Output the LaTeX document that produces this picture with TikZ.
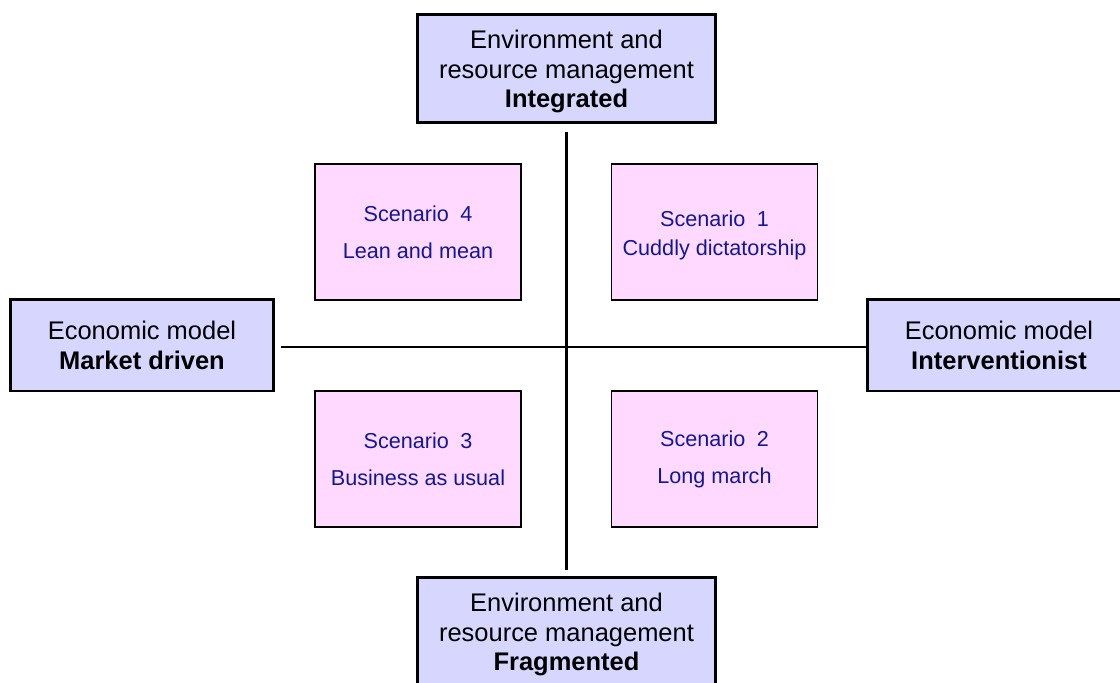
\documentclass[tikz,border=0pt]{standalone}
\usepackage{fontspec}
\setmainfont{Liberation Sans}
\usepackage{tikz}
\definecolor{axisfill}{RGB}{214,214,255}
\definecolor{scenfill}{RGB}{255,217,255}
\definecolor{scentext}{RGB}{16,24,150}

\begin{document}
\begin{tikzpicture}[x=0.02cm, y=-0.02cm,
        axisbox/.style={draw=black, line width=1.7pt, fill=axisfill, align=center,
          font={\fontsize{14.5}{17}\selectfont}},
        scenbox/.style={draw=black, line width=1pt, fill=scenfill, align=center, text=scentext,
          minimum width=4.12cm, minimum height=2.73cm, font={\fontsize{12.3}{21}\selectfont}},
        axisline/.style={line width=1.3pt}]
          \path[use as bounding box, clip] (0,0) rectangle (1120,683);

          %draw axis boxes
          \node[axisbox, minimum width=5.98cm, minimum height=2.18cm, text height=47.9pt] (integ) at (566.5,68.5)
            {Environment and\\resource management\\\textbf{Integrated}};
          \node[axisbox, minimum width=5.98cm, minimum height=2.18cm, text height=47.9pt] (frag) at (566.5,631.5)
            {Environment and\\resource management\\\textbf{Fragmented}};
          \node[axisbox, minimum width=5.28cm, minimum height=1.84cm] (market) at (142,345)
            {Economic model\\\textbf{Market driven}};
          \node[axisbox, minimum width=5.28cm, minimum height=1.84cm] (interv) at (999,345)
            {Economic model\\\textbf{Interventionist}};

          %draw cross
          \draw[axisline, shorten <=4pt, shorten >=3pt] (integ) -- (frag);
          \draw[axisline, shorten <=3pt] ([yshift=-1.1pt]market.east) -- ([yshift=-1.1pt]interv.west);

          %draw scenarios
          \node[scenbox] (scen4) at (418,232) {Scenario\hspace{0.25em} 4\\Lean and mean};
          \node[scenbox, text height=29.5pt] (scen1) at (714.5,232) {Scenario\hspace{0.25em} 1\\[-4.5pt]Cuddly dictatorship};
          \node[scenbox] (scen3) at (418,459) {Scenario\hspace{0.25em} 3\\Business as usual};
          \node[scenbox] (scen2) at (714.5,459) {Scenario\hspace{0.25em} 2\\Long march};
    \end{tikzpicture}
\end{document}
